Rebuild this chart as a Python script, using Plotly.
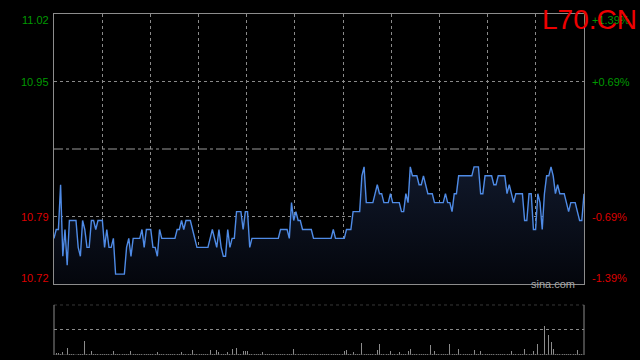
import plotly.graph_objects as go

prev_close = 10.87

prices = [
    10.77, 10.78, 10.78, 10.83, 10.75, 10.78, 10.74, 10.79, 10.79, 10.79,
    10.79, 10.76, 10.75, 10.79, 10.78, 10.76, 10.76, 10.79, 10.79, 10.78,
    10.79, 10.79, 10.79, 10.76, 10.78, 10.76, 10.76, 10.77, 10.73, 10.73,
    10.73, 10.73, 10.73, 10.76, 10.77, 10.75, 10.77, 10.77, 10.77, 10.77,
    10.78, 10.76, 10.78, 10.78, 10.78, 10.76, 10.76, 10.75, 10.78, 10.77,
    10.77, 10.77, 10.77, 10.77, 10.77, 10.77, 10.78, 10.78, 10.79, 10.78,
    10.79, 10.79, 10.79, 10.78, 10.77, 10.76, 10.76, 10.76, 10.76, 10.76,
    10.76, 10.77, 10.78, 10.77, 10.76, 10.78, 10.76, 10.75, 10.75, 10.78,
    10.76, 10.77, 10.77, 10.80, 10.80, 10.80, 10.78, 10.80, 10.80, 10.76,
    10.77, 10.77, 10.77, 10.77, 10.77, 10.77, 10.77, 10.77, 10.77, 10.77,
    10.77, 10.77, 10.77, 10.78, 10.78, 10.78, 10.78, 10.77, 10.81, 10.79,
    10.80, 10.79, 10.79, 10.78, 10.78, 10.78, 10.78, 10.78, 10.77, 10.77,
    10.77, 10.77, 10.77, 10.77, 10.77, 10.77, 10.77, 10.78, 10.77, 10.77,
    10.77, 10.77, 10.77, 10.78, 10.78, 10.78, 10.80, 10.80, 10.80, 10.80,
    10.84, 10.85, 10.81, 10.81, 10.81, 10.81, 10.82, 10.83, 10.82, 10.82,
    10.81, 10.81, 10.81, 10.82, 10.81, 10.81, 10.81, 10.81, 10.80, 10.80,
    10.82, 10.81, 10.85, 10.84, 10.84, 10.84, 10.83, 10.83, 10.84, 10.83,
    10.82, 10.82, 10.82, 10.81, 10.81, 10.81, 10.81, 10.81, 10.82, 10.81,
    10.81, 10.80, 10.82, 10.82, 10.84, 10.84, 10.84, 10.84, 10.84, 10.84,
    10.84, 10.85, 10.85, 10.85, 10.82, 10.82, 10.84, 10.84, 10.84, 10.84,
    10.83, 10.83, 10.84, 10.84, 10.84, 10.84, 10.82, 10.83, 10.82, 10.81,
    10.82, 10.82, 10.82, 10.82, 10.79, 10.79, 10.82, 10.82, 10.78, 10.78,
    10.82, 10.81, 10.78, 10.82, 10.84, 10.84, 10.85, 10.84, 10.82, 10.83,
    10.82, 10.82, 10.82, 10.81, 10.80, 10.81, 10.81, 10.81, 10.80, 10.79,
    10.79, 10.82,
]

volumes = [
    10, 3, 4, 2, 6, 12, 14, 2, 2, 2, 2, 2, 2, 2, 28, 2, 2, 8, 2, 2,
    2, 2, 2, 2, 2, 2, 2, 8, 2, 2, 2, 2, 2, 2, 2, 8, 2, 2, 2, 2,
    2, 2, 2, 2, 2, 2, 2, 6, 2, 2, 2, 2, 2, 2, 2, 2, 2, 2, 6, 2,
    2, 2, 2, 10, 2, 2, 2, 2, 2, 2, 2, 10, 2, 2, 10, 6, 2, 2, 2, 6,
    2, 12, 2, 14, 2, 2, 8, 8, 8, 2, 2, 2, 2, 2, 2, 6, 2, 2, 2, 2,
    2, 2, 2, 2, 2, 2, 2, 2, 2, 12, 2, 2, 2, 2, 2, 2, 2, 2, 2, 2,
    2, 2, 2, 2, 2, 2, 2, 2, 2, 2, 2, 2, 8, 10, 2, 2, 6, 2, 2, 2,
    24, 2, 2, 2, 2, 2, 2, 10, 22, 2, 2, 2, 2, 8, 2, 2, 2, 6, 2, 2,
    2, 8, 12, 2, 2, 2, 2, 2, 2, 2, 2, 20, 2, 8, 2, 2, 2, 2, 2, 2,
    22, 2, 2, 2, 12, 2, 2, 2, 2, 2, 2, 10, 2, 2, 8, 2, 2, 2, 2, 2,
    2, 2, 2, 2, 2, 2, 2, 2, 8, 2, 2, 2, 2, 2, 12, 2, 2, 2, 8, 2,
    22, 2, 2, 58, 2, 40, 26, 12, 2, 2, 2, 2, 2, 2, 2, 2, 2, 2, 10, 2,
    2, 2,
]

left_labels = ["11.02", "10.95", "10.79", "10.72"]
right_labels = ["+1.39%", "+0.69%", "-0.69%", "-1.39%"]
label_colors = ["#009900", "#009900", "#dd0000", "#dd0000"]
title_text = "L70.CN"
watermark = "sina.com"

x = list(range(len(prices)))
n = len(prices) - 1
half = 0.151
y_lo, y_hi = prev_close - half, prev_close + half
tick_levels = [prev_close + half, prev_close + half / 2, prev_close - half / 2, prev_close - half]
label_pos = [prev_close + half * 0.955, prev_close + half / 2, prev_close - half / 2, prev_close - half * 0.955]

GRID = "#8a8a8a"
BORDER = "#8c8c8c"

fig = go.Figure()
fig.add_trace(go.Scatter(
    x=x, y=prices, mode="lines",
    line=dict(color="#4f8be6", width=1.4),
    fill="tozeroy",
    fillgradient=dict(type="vertical", start=y_lo, stop=10.85,
                      colorscale=[[0, "rgb(4,6,12)"], [1, "rgb(16,24,42)"]]),
    xaxis="x", yaxis="y", hoverinfo="skip",
))
fig.add_trace(go.Bar(
    x=x, y=volumes, marker=dict(color="#8c8c8c", line=dict(width=0)),
    width=0.45, xaxis="x2", yaxis="y2", hoverinfo="skip",
))

vgrid = [n * k / 11 for k in range(1, 11)]

fig.update_layout(
    width=640, height=360,
    paper_bgcolor="black", plot_bgcolor="black",
    margin=dict(l=54, r=56, t=14, b=5),
    showlegend=False,
    bargap=0,
    xaxis=dict(domain=[0, 1], range=[0, n], tickvals=vgrid, showticklabels=False,
               showgrid=True, gridcolor=GRID, griddash="dot", gridwidth=1,
               zeroline=False, showline=True, linecolor=BORDER, linewidth=1, mirror=True,
               anchor="y", ticks=""),
    yaxis=dict(domain=[0.2082, 1], range=[y_lo, y_hi], tickvals=[tick_levels[1], tick_levels[2]],
               showticklabels=False, showgrid=True, gridcolor=GRID, griddash="dot", gridwidth=1,
               zeroline=False, showline=True, linecolor=BORDER, linewidth=1, mirror=True,
               anchor="x", ticks=""),
    xaxis2=dict(domain=[0, 1], range=[0, n], showticklabels=False, showgrid=False,
                zeroline=False, showline=False, anchor="y2", ticks=""),
    yaxis2=dict(domain=[0, 0.1475], range=[0, 100], tickvals=[50], showticklabels=False,
                showgrid=True, gridcolor=GRID, griddash="dot", gridwidth=1,
                zeroline=False, showline=False, anchor="x2", ticks=""),
)

shapes = [
    dict(type="line", xref="x", yref="y", x0=0, x1=n, y0=prev_close, y1=prev_close,
         line=dict(color="#9a9a9a", width=1, dash="dashdot")),
    dict(type="line", xref="x2 domain", yref="y2", x0=0, x1=1, y0=100, y1=100,
         line=dict(color=GRID, width=1, dash="dot")),
    dict(type="line", xref="x2 domain", yref="y2", x0=0, x1=0, y0=0, y1=100,
         line=dict(color=BORDER, width=1)),
    dict(type="line", xref="x2 domain", yref="y2", x0=1, x1=1, y0=0, y1=100,
         line=dict(color=BORDER, width=1)),
    dict(type="line", xref="x2 domain", yref="y2", x0=0, x1=1, y0=0, y1=0,
         line=dict(color="#555555", width=1)),
]
fig.update_layout(shapes=shapes)

annotations = []
for lbl, rl, col, yp in zip(left_labels, right_labels, label_colors, label_pos):
    annotations.append(dict(xref="paper", yref="y", x=-0.006, y=yp, text=lbl, showarrow=False,
                            xanchor="right", yanchor="middle",
                            font=dict(family="Liberation Sans, Arial", size=11, color=col)))
    annotations.append(dict(xref="paper", yref="y", x=1.011, y=yp, text=rl, showarrow=False,
                            xanchor="left", yanchor="middle",
                            font=dict(family="Liberation Sans, Arial", size=11, color=col)))
annotations.append(dict(xref="paper", yref="paper", x=1.0, y=1.0, xshift=55, yshift=12,
                        text=title_text, showarrow=False, xanchor="right", yanchor="top",
                        font=dict(family="Liberation Sans, Arial", size=28, color="#ee0000")))
annotations.append(dict(xref="paper", yref="y", x=0.986, y=y_lo, text=watermark, showarrow=False,
                        xanchor="right", yanchor="middle",
                        font=dict(family="Liberation Sans, Arial", size=11, color="#a8a8a8")))
fig.update_layout(annotations=annotations)

fig.write_html(
    "out.html",
    config={"displayModeBar": False, "staticPlot": True},
    post_script="document.body.style.margin='0';document.body.style.background='black';"
                "document.body.style.overflow='hidden';",
)
